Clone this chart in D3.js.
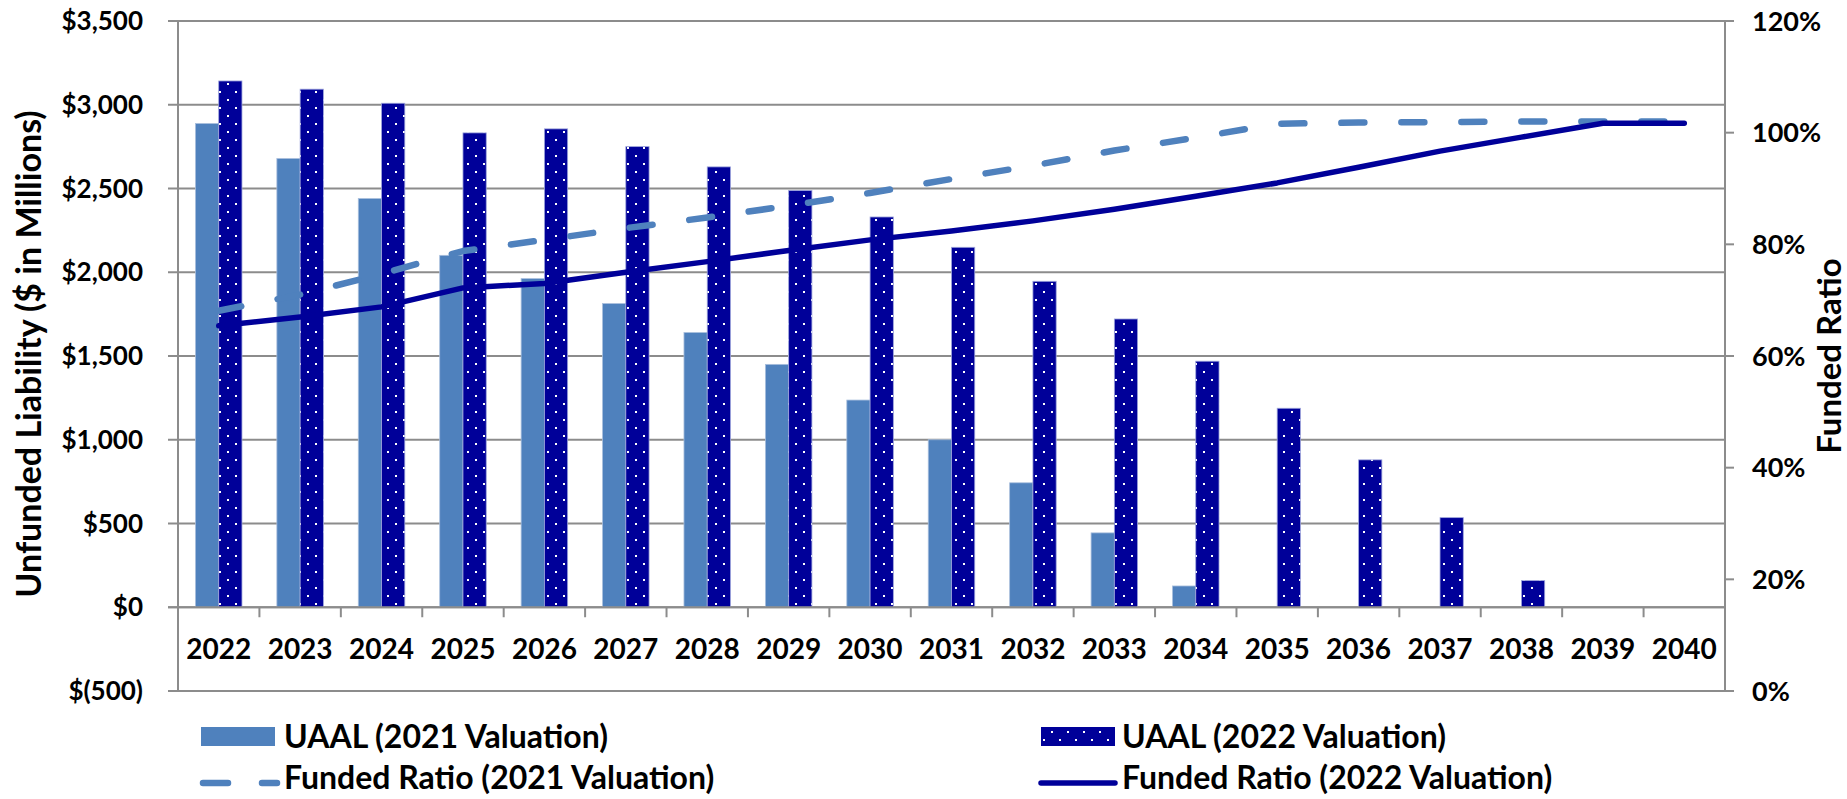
<!DOCTYPE html>
<html>
<head>
<meta charset="utf-8">
<script src="https://cdn.jsdelivr.net/npm/d3@7"></script>
<style>
  html, body { margin: 0; padding: 0; background: #fff; }
  svg { display: block; font-family: Lato, "Open Sans", sans-serif; font-weight: 700; }
</style>
</head>
<body>
<svg id="chart" width="1847" height="799"></svg>
<script>
// Valuation years on the category axis
const years = ["2022","2023","2024","2025","2026","2027","2028","2029","2030","2031",
               "2032","2033","2034","2035","2036","2037","2038","2039","2040"];

// Unfunded actuarial accrued liability, $ millions
const uaal2021 = [2888, 2679, 2440, 2101, 1962, 1813, 1640, 1450, 1237, 1000,
                  743, 444, 127, 0, 0, 0, 0, 0, 0];
const uaal2022 = [3142, 3093, 3009, 2832, 2856, 2750, 2629, 2488, 2330, 2149,
                  1946, 1721, 1469, 1188, 880, 535, 159, 0, 0];

// Funded ratio, percent
const funded2021 = [68.1, 71.0, 74.7, 78.8, 80.8, 82.9, 84.8, 86.9, 89.2, 91.7,
                    94.1, 96.8, 99.1, 101.6, 101.8, 101.9, 102.0, 102.0, 102.0];
const funded2022 = [65.4, 67.0, 68.8, 72.2, 73.0, 75.0, 76.9, 78.9, 80.8, 82.4,
                    84.2, 86.3, 88.6, 91.0, 93.8, 96.7, 99.2, 101.7, 101.7];

// Axis tick values
const leftTicks = [-500, 0, 500, 1000, 1500, 2000, 2500, 3000, 3500];
const rightTicks = [0, 20, 40, 60, 80, 100, 120];

const legendLabels = ["UAAL (2021 Valuation)", "UAAL (2022 Valuation)",
                      "Funded Ratio (2021 Valuation)", "Funded Ratio (2022 Valuation)"];

const LIGHT = "#4F81BD";
const NAVY = "#000099";
const GRID = "#8c8c8c";

const svg = d3.select("#chart");

// Plot area
const plotL = 178, plotR = 1725, plotT = 21, plotB = 691;

const x = d3.scaleBand().domain(years).range([plotL, plotR]).padding(0);
const xSub = d3.scaleBand().domain(["a", "b"]).range([0, x.bandwidth()])
  .paddingInner(0).paddingOuter(0.75);
const yL = d3.scaleLinear().domain([-500, 3500]).range([plotB, plotT]);
const yR = d3.scaleLinear().domain([0, 120]).range([plotB, plotT]);

// Dotted fill for the 2022 bars
const defs = svg.append("defs");
const pat = defs.append("pattern").attr("id", "dots")
  .attr("patternUnits", "userSpaceOnUse").attr("width", 16).attr("height", 16);
pat.append("rect").attr("width", 16).attr("height", 16).attr("fill", NAVY);
pat.append("rect").attr("x", 3).attr("y", 3).attr("width", 2).attr("height", 2).attr("fill", "#fff");
pat.append("rect").attr("x", 11).attr("y", 11).attr("width", 2).attr("height", 2).attr("fill", "#fff");

// Horizontal gridlines (left axis)
svg.append("g").selectAll("line").data(leftTicks).join("line")
  .attr("x1", plotL - 10).attr("x2", plotR)
  .attr("y1", d => yL(d)).attr("y2", d => yL(d))
  .attr("stroke", GRID).attr("stroke-width", 2);

// Left and right axis lines
svg.append("line").attr("x1", plotL).attr("x2", plotL).attr("y1", plotT).attr("y2", plotB)
  .attr("stroke", GRID).attr("stroke-width", 2);
svg.append("line").attr("x1", plotR).attr("x2", plotR).attr("y1", plotT).attr("y2", plotB)
  .attr("stroke", GRID).attr("stroke-width", 2);

// Right axis ticks
svg.append("g").selectAll("line").data(rightTicks).join("line")
  .attr("x1", plotR).attr("x2", plotR + 9)
  .attr("y1", d => yR(d)).attr("y2", d => yR(d))
  .attr("stroke", GRID).attr("stroke-width", 2);

// Category axis at $0 with ticks between categories
svg.append("g").selectAll("line").data(years.slice(1)).join("line")
  .attr("x1", d => x(d)).attr("x2", d => x(d))
  .attr("y1", yL(0)).attr("y2", yL(0) + 10)
  .attr("stroke", GRID).attr("stroke-width", 2);

// Bars
const bars = svg.append("g");
bars.selectAll("rect.b21").data(years.map((y, i) => ({ y, v: uaal2021[i] })).filter(d => d.v > 0))
  .join("rect").attr("class", "b21")
  .attr("x", d => x(d.y) + xSub("a")).attr("width", xSub.bandwidth())
  .attr("y", d => yL(d.v)).attr("height", d => yL(0) - yL(d.v))
  .attr("fill", LIGHT).attr("stroke", "#a9bfdd").attr("stroke-width", 0.8);
bars.selectAll("rect.b22").data(years.map((y, i) => ({ y, v: uaal2022[i] })).filter(d => d.v > 0))
  .join("rect").attr("class", "b22")
  .attr("x", d => x(d.y) + xSub("b")).attr("width", xSub.bandwidth())
  .attr("y", d => yL(d.v)).attr("height", d => yL(0) - yL(d.v))
  .attr("fill", "url(#dots)").attr("stroke", "#9fa6dc").attr("stroke-width", 0.8);

// Redraw the $0 axis line over the bar bases
svg.append("line").attr("x1", plotL - 10).attr("x2", plotR)
  .attr("y1", yL(0)).attr("y2", yL(0)).attr("stroke", GRID).attr("stroke-width", 2);

// Funded ratio lines
const line = d3.line().x((d, i) => x(years[i]) + x.bandwidth() / 2).y(d => yR(d));
svg.append("path").datum(funded2021).attr("d", line)
  .attr("fill", "none").attr("stroke", LIGHT).attr("stroke-width", 6.5)
  .attr("stroke-linecap", "round").attr("stroke-linejoin", "round")
  .attr("stroke-dasharray", "23,37");
svg.append("path").datum(funded2022).attr("d", line)
  .attr("fill", "none").attr("stroke", NAVY).attr("stroke-width", 5.5)
  .attr("stroke-linecap", "round").attr("stroke-linejoin", "round");

// Left tick labels
const money = v => v < 0 ? `$(${d3.format(",")(-v)})` : `$${d3.format(",")(v)}`;
svg.append("g").selectAll("text").data(leftTicks).join("text")
  .attr("x", 143).attr("y", d => yL(d) + 9)
  .attr("text-anchor", "end").attr("font-size", 26).text(money);

// Right tick labels
svg.append("g").selectAll("text").data(rightTicks).join("text")
  .attr("x", 1752).attr("y", d => yR(d) + 9.5)
  .attr("text-anchor", "start").attr("font-size", 27).text(d => d + "%");

// Category labels
svg.append("g").selectAll("text").data(years).join("text")
  .attr("x", d => x(d) + x.bandwidth() / 2).attr("y", 659)
  .attr("text-anchor", "middle").attr("font-size", 28).text(d => d);

// Axis titles
svg.append("text").attr("transform", "translate(41,354) rotate(-90)")
  .attr("text-anchor", "middle").attr("font-size", 34)
  .text("Unfunded Liability ($ in Millions)");
svg.append("text").attr("transform", "translate(1841,356) rotate(-90)")
  .attr("text-anchor", "middle").attr("font-size", 33)
  .text("Funded Ratio");

// Legend
const lg = svg.append("g");
lg.append("rect").attr("x", 201).attr("y", 727).attr("width", 74).attr("height", 19).attr("fill", LIGHT);
lg.append("text").attr("x", 284).attr("y", 748).attr("font-size", 32).text(legendLabels[0]);
lg.append("rect").attr("x", 1041).attr("y", 727).attr("width", 74).attr("height", 19).attr("fill", "url(#dots)");
lg.append("text").attr("x", 1122).attr("y", 748).attr("font-size", 32).text(legendLabels[1]);
lg.append("line").attr("x1", 203).attr("x2", 277).attr("y1", 783).attr("y2", 783)
  .attr("stroke", LIGHT).attr("stroke-width", 6.5).attr("stroke-linecap", "round")
  .attr("stroke-dasharray", "25,34");
lg.append("text").attr("x", 284).attr("y", 789).attr("font-size", 32).text(legendLabels[2]);
lg.append("line").attr("x1", 1041).attr("x2", 1115).attr("y1", 783).attr("y2", 783)
  .attr("stroke", NAVY).attr("stroke-width", 5.5).attr("stroke-linecap", "round");
lg.append("text").attr("x", 1122).attr("y", 789).attr("font-size", 32).text(legendLabels[3]);
</script>
</body>
</html>
